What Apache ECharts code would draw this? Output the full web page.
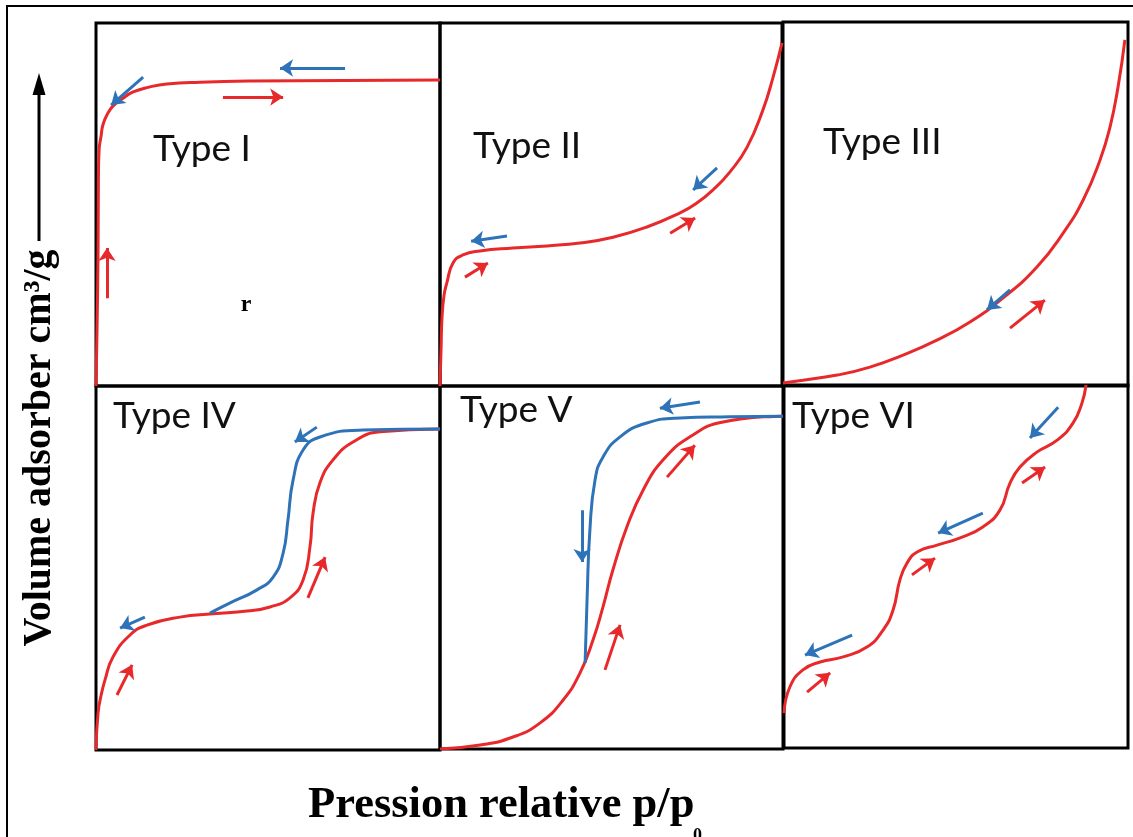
<!DOCTYPE html>
<html><head><meta charset="utf-8">
<script src="https://cdn.jsdelivr.net/npm/echarts@6/dist/echarts.min.js"></script>
<style>html,body{margin:0;padding:0;background:#fff}#c{width:1133px;height:837px}</style>
</head><body><div id="c"></div>
<script>
// ---------- Data (normalised: x = relative pressure 0..1, y = adsorbed volume 0..1) ----------
const panelNames = ['Type I', 'Type II', 'Type III', 'Type IV', 'Type V', 'Type VI'];

const typeI_adsorption = [[0,0],[0.003,0.154],[0.006,0.375],[0.007,0.567],[0.009,0.65],[0.015,0.69],[0.020,0.719],[0.032,0.747],[0.049,0.771],[0.076,0.791],[0.108,0.810],[0.157,0.824],[0.206,0.832],[0.302,0.837],[0.448,0.840],[1.0,0.843]];
const typeII_adsorption = [[0,0],[0.003,0.099],[0.006,0.19],[0.012,0.251],[0.020,0.284],[0.038,0.339],[0.067,0.361],[0.117,0.372],[0.213,0.380],[0.313,0.386],[0.409,0.394],[0.506,0.410],[0.605,0.438],[0.702,0.477],[0.751,0.504],[0.798,0.540],[0.848,0.590],[0.898,0.658],[0.944,0.760],[0.974,0.851],[1.0,0.945]];
const typeIII_adsorption = [[0,0.008],[0.058,0.016],[0.157,0.030],[0.252,0.052],[0.348,0.085],[0.446,0.126],[0.542,0.176],[0.638,0.242],[0.736,0.327],[0.812,0.420],[0.870,0.511],[0.919,0.621],[0.948,0.712],[0.971,0.821],[0.991,0.951]];
const typeIV_adsorption = [[0,0],[0.006,0.102],[0.015,0.151],[0.026,0.192],[0.049,0.255],[0.099,0.316],[0.148,0.343],[0.244,0.365],[0.340,0.374],[0.439,0.382],[0.506,0.393],[0.564,0.418],[0.602,0.467],[0.622,0.558],[0.631,0.651],[0.651,0.734],[0.689,0.797],[0.747,0.846],[0.826,0.874],[1.0,0.882]];
const typeIV_desorption = [[0.331,0.376],[0.390,0.404],[0.468,0.440],[0.515,0.475],[0.544,0.541],[0.558,0.632],[0.573,0.742],[0.602,0.824],[0.651,0.860],[0.776,0.879],[1.0,0.882]];
const typeV_adsorption = [[0,0],[0.117,0.011],[0.213,0.033],[0.292,0.072],[0.359,0.135],[0.408,0.209],[0.446,0.300],[0.475,0.391],[0.504,0.493],[0.545,0.612],[0.592,0.713],[0.650,0.796],[0.729,0.860],[0.825,0.901],[1.0,0.917]];
const typeV_desorption = [[0.423,0.237],[0.429,0.419],[0.437,0.603],[0.452,0.741],[0.475,0.804],[0.525,0.860],[0.603,0.898],[0.700,0.912],[0.845,0.915],[1.0,0.917]];
const typeVI_adsorption = [[0,0.096],[0.017,0.168],[0.055,0.215],[0.105,0.237],[0.172,0.251],[0.241,0.278],[0.288,0.325],[0.317,0.380],[0.337,0.463],[0.358,0.510],[0.387,0.540],[0.445,0.559],[0.512,0.579],[0.578,0.609],[0.628,0.656],[0.657,0.730],[0.686,0.774],[0.735,0.815],[0.794,0.848],[0.840,0.895],[0.866,0.950],[0.878,1.0]];

// direction arrows: [[from],[to]]
const typeI_arrowsAds = [[[0.369,0.796],[0.544,0.796]], [[0.032,0.242],[0.032,0.380]]];
const typeI_arrowsDes = [[[0.724,0.876],[0.535,0.876]], [[0.137,0.851],[0.044,0.774]]];
const typeII_arrowsAds = [[[0.073,0.300],[0.140,0.339]], [[0.673,0.421],[0.746,0.463]]];
const typeII_arrowsDes = [[[0.196,0.413],[0.091,0.399]], [[0.810,0.601],[0.740,0.540]]];
const typeIII_arrowsAds = [[[0.658,0.159],[0.759,0.236]]];
const typeIII_arrowsDes = [[[0.658,0.264],[0.591,0.209]]];
const typeIV_arrowsAds = [[[0.061,0.151],[0.105,0.234]], [[0.616,0.418],[0.666,0.530]]];
const typeIV_arrowsDes = [[[0.642,0.887],[0.578,0.846]], [[0.142,0.365],[0.070,0.335]]];
const typeV_arrowsAds = [[[0.662,0.749],[0.743,0.837]], [[0.481,0.218],[0.525,0.342]]];
const typeV_arrowsDes = [[[0.758,0.956],[0.641,0.939]], [[0.414,0.658],[0.414,0.515]]];
const typeVI_arrowsAds = [[[0.692,0.730],[0.759,0.774]], [[0.372,0.477],[0.439,0.523]], [[0.067,0.154],[0.134,0.207]]];
const typeVI_arrowsDes = [[[0.797,0.939],[0.715,0.854]], [[0.578,0.647],[0.448,0.592]], [[0.198,0.311],[0.061,0.256]]];

const yAxisTitle = 'Volume adsorber cm³/g';
const xAxisTitle = 'Pression relative p/p';
const xAxisTitleSub = '0';
const strayMark = 'r';

// ---------- Layout & style ----------
const RED = '#e8292b', BLUE = '#2e73b8';
const grids = [
  {left:96, top:23, width:344, height:363},
  {left:440, top:23, width:342, height:363},
  {left:783, top:22, width:345, height:364},
  {left:96, top:386, width:344, height:364},
  {left:440, top:386, width:343, height:363},
  {left:784, top:385, width:344, height:363}
];
const labelPos = [[153,149],[473,146],[823,142],[113,416],[460,410],[792,416]];

const adsorption = [typeI_adsorption, typeII_adsorption, typeIII_adsorption, typeIV_adsorption, typeV_adsorption, typeVI_adsorption];
const desorption = [null, null, null, typeIV_desorption, typeV_desorption, null];
const arrowsAds = [typeI_arrowsAds, typeII_arrowsAds, typeIII_arrowsAds, typeIV_arrowsAds, typeV_arrowsAds, typeVI_arrowsAds];
const arrowsDes = [typeI_arrowsDes, typeII_arrowsDes, typeIII_arrowsDes, typeIV_arrowsDes, typeV_arrowsDes, typeVI_arrowsDes];

const series = [];
grids.forEach((g, i) => {
  series.push({type:'line', xAxisIndex:i, yAxisIndex:i, data:adsorption[i], showSymbol:false, symbol:'none',
    smooth:0.5, lineStyle:{color:RED, width:3}, silent:true, z:3});
  if (desorption[i]) series.push({type:'line', xAxisIndex:i, yAxisIndex:i, data:desorption[i], showSymbol:false, symbol:'none',
    smooth:0.5, lineStyle:{color:BLUE, width:3}, silent:true, z:4});
  series.push({type:'lines', coordinateSystem:'cartesian2d', xAxisIndex:i, yAxisIndex:i, silent:true, z:5,
    symbol:['none','arrow'], symbolSize:13, lineStyle:{color:RED, width:3, opacity:1, curveness:0},
    data: arrowsAds[i].map(c => ({coords:c}))});
  series.push({type:'lines', coordinateSystem:'cartesian2d', xAxisIndex:i, yAxisIndex:i, silent:true, z:5,
    symbol:['none','arrow'], symbolSize:13, lineStyle:{color:BLUE, width:3, opacity:1, curveness:0},
    data: arrowsDes[i].map(c => ({coords:c}))});
});

const graphic = [
  {type:'polyline', shape:{points:[[7,837],[7,6],[1133,6]]}, style:{stroke:'#000', lineWidth:2, fill:null}, z:10},
  {type:'line', shape:{x1:39, y1:241, x2:39, y2:92}, style:{stroke:'#000', lineWidth:3}},
  {type:'polygon', shape:{points:[[32.5,95],[45.5,95],[39,73]]}, style:{fill:'#000'}},
  {type:'text', x:40, y:448, rotation:Math.PI/2, style:{text:yAxisTitle, x:0, y:0, textAlign:'center', textVerticalAlign:'middle',
    font:'bold 40px "Liberation Serif"', fill:'#000'}},
  {type:'text', style:{text:xAxisTitle, x:308, y:805, textAlign:'left', textVerticalAlign:'middle', font:'bold 44.5px "Liberation Serif"', fill:'#000'}},
  {type:'text', style:{text:xAxisTitleSub, x:693, y:836, textAlign:'left', textVerticalAlign:'middle', font:'bold 18px "Liberation Serif"', fill:'#000'}},
  {type:'text', style:{text:strayMark, x:246, y:305, textAlign:'center', textVerticalAlign:'middle', font:'bold 24px "Liberation Serif"', fill:'#000'}}
];
panelNames.forEach((n, i) => {
  graphic.push({type:'text', z:20, style:{text:n, x:labelPos[i][0], y:labelPos[i][1], textAlign:'left', textVerticalAlign:'middle',
    font:'37px Lato', fill:'#111'}});
});

const chart = echarts.init(document.getElementById('c'), null, {renderer:'canvas'});
chart.setOption({
  animation:false,
  backgroundColor:'#fff',
  grid: grids.map(g => Object.assign({show:true, borderColor:'#000', borderWidth:3, backgroundColor:'transparent', containLabel:false}, g)),
  xAxis: grids.map((g, i) => ({gridIndex:i, type:'value', min:0, max:1, show:false})),
  yAxis: grids.map((g, i) => ({gridIndex:i, type:'value', min:0, max:1, show:false})),
  series: series,
  graphic: graphic
});
</script></body></html>
